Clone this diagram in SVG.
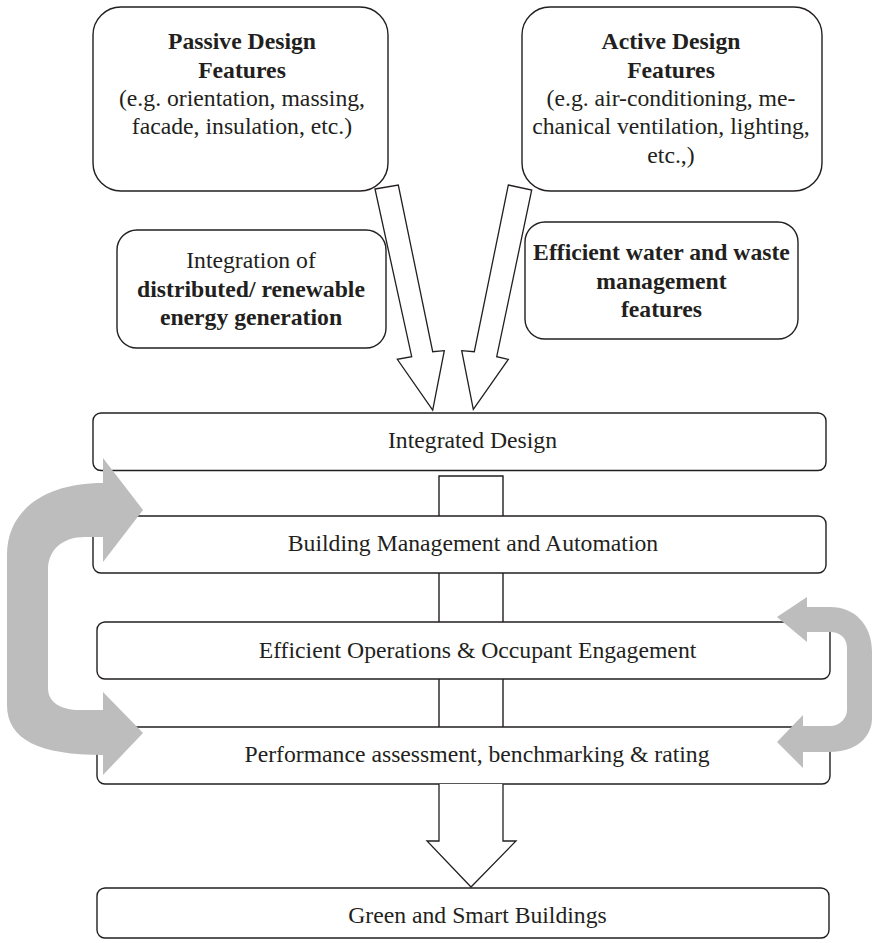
<svg xmlns="http://www.w3.org/2000/svg" width="873" height="943" viewBox="0 0 873 943">
<style>
.box{fill:#fff;stroke:#231f20;stroke-width:1.4}
.ln{fill:none;stroke:#231f20;stroke-width:1.4}
.arw{fill:#fff;stroke:#231f20;stroke-width:1.3;stroke-linejoin:miter}
.gray{fill:#bdbdbd;stroke:none}
text{font-family:"Liberation Serif","Times New Roman",serif;font-size:23.7px;fill:#231f20;text-anchor:middle}
.b{font-weight:bold}
</style>
<rect width="873" height="943" fill="#fff"/>
<g id="connectors">
  <polygon class="arw" points="375,189 398.3,185 432.7,351.7 444.3,350.7 432.7,410 397.3,359.3 411.7,356.7"/>
  <polygon class="arw" points="508.3,185 531.7,190 496.7,356.7 508.3,359.3 473.3,409.3 461.7,350.7 474.3,351.7"/>
</g>
<g id="passive">
  <rect class="box" x="93" y="7" width="295" height="184" rx="28"/>
  <text x="242" y="49.3" class="b">Passive Design</text>
  <text x="242" y="77.5" class="b">Features</text>
  <text x="242" y="106">(e.g. orientation, massing,</text>
  <text x="242" y="134.3">facade, insulation, etc.)</text>
</g>
<g id="active">
  <rect class="box" x="522" y="7" width="300" height="184" rx="28"/>
  <text x="671" y="49.3" class="b">Active Design</text>
  <text x="671" y="77.5" class="b">Features</text>
  <text x="671" y="106">(e.g. air-conditioning, me-</text>
  <text x="671" y="134.3">chanical ventilation, lighting,</text>
  <text x="671" y="162.5">etc.,)</text>
</g>
<g id="renewable">
  <rect class="box" x="117" y="230" width="269" height="118" rx="20"/>
  <text x="251" y="268">Integration of</text>
  <text x="251" y="296.5" class="b">distributed/ renewable</text>
  <text x="251" y="325" class="b">energy generation</text>
</g>
<g id="water">
  <rect class="box" x="525" y="222" width="273" height="117" rx="20"/>
  <text x="661.5" y="260" class="b">Efficient water and waste</text>
  <text x="661.5" y="288.5" class="b">management</text>
  <text x="661.5" y="317" class="b">features</text>
</g>
<g id="integrated-design">
  <rect class="box" x="93" y="413" width="733" height="57.5" rx="8"/>
  <text x="472.5" y="448">Integrated Design</text>
</g>
<g id="building-management">
  <rect class="box" x="93" y="516" width="733" height="57" rx="8"/>
  <text x="473" y="551">Building Management and Automation</text>
</g>
<g id="efficient-operations">
  <rect class="box" x="97" y="622" width="733" height="57" rx="8"/>
  <text x="477.5" y="658">Efficient Operations &amp; Occupant Engagement</text>
</g>
<g id="performance">
  <rect class="box" x="97" y="727" width="733" height="57" rx="8"/>
  <text x="477" y="762">Performance assessment, benchmarking &amp; rating</text>
</g>
<g id="green-smart">
  <rect class="box" x="97" y="888" width="732" height="50" rx="8"/>
  <text x="477.5" y="923">Green and Smart Buildings</text>
</g>
<g id="flow">
  <path class="ln" d="M439,516 V476 H503 V516"/>
  <path class="ln" d="M439,573 V622 M503,573 V622 M439,679 V727 M503,679 V727"/>
  <path class="arw" d="M439,784 V841 H427 L471,887 L516,841 H503 V784"/>
  <path class="gray" d="M103,483 C45,483 7,510 7,555 L7,705 C7,740 40,755 103,755 L103,775 L143,733 L103,692 L103,710 L80,710 C60,710 48,702 48,688 L48,570 C48,550 62,537 85,537 L103,537 L103,562 L143,510 L103,458 Z"/>
  <path class="gray" d="M807,607 L830,607 C855,607 872,625 872,652 L872,718 C872,738 855,752 830,752 L803,752 L803,768 L777,742 L803,715 L803,726 L830,726 C840,726 847,718 847,710 L847,648 C847,638 840,632 830,632 L807,632 L807,642 L777,617 L807,597 Z"/>
</g>
</svg>
